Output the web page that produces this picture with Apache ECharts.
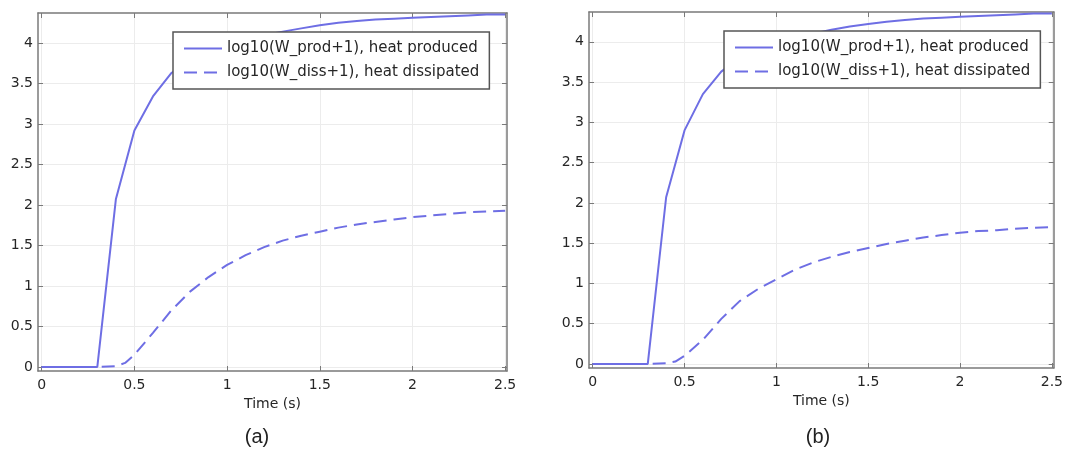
<!DOCTYPE html>
<html>
<head>
<meta charset="utf-8">
<title>heat produced / dissipated</title>
<script src="https://cdn.jsdelivr.net/npm/echarts@6/dist/echarts.min.js"></script>
<style>
  html, body { margin: 0; padding: 0; background: #fff; }
  #chart { width: 1066px; height: 465px; }
</style>
</head>
<body>
<div id="chart"></div>
<script>
// values
var timeProd = [0, 0.1, 0.2, 0.3, 0.4, 0.5, 0.6, 0.7, 0.8, 0.9, 1.0, 1.1, 1.2, 1.3, 1.4, 1.5, 1.6, 1.7, 1.8, 1.9, 2.0, 2.1, 2.2, 2.3, 2.4, 2.5]
var prodA = [0, 0, 0, 0, 2.07, 2.92, 3.34, 3.63, 3.8, 3.91, 3.99, 4.05, 4.1, 4.14, 4.18, 4.22, 4.25, 4.27, 4.29, 4.3, 4.31, 4.32, 4.33, 4.34, 4.35, 4.35]
var prodB = [0, 0, 0, 0, 2.07, 2.9, 3.35, 3.63, 3.8, 3.91, 3.99, 4.05, 4.1, 4.15, 4.19, 4.22, 4.25, 4.27, 4.29, 4.3, 4.31, 4.32, 4.33, 4.34, 4.35, 4.35]

var timeDiss = [0, 0.1, 0.2, 0.3, 0.4, 0.45, 0.5, 0.6, 0.7, 0.8, 0.9, 1.0, 1.1, 1.2, 1.3, 1.4, 1.5, 1.6, 1.7, 1.8, 1.9, 2.0, 2.1, 2.2, 2.3, 2.4, 2.5]
var dissA = [0, 0, 0, 0, 0.01, 0.05, 0.15, 0.42, 0.7, 0.93, 1.11, 1.26, 1.38, 1.48, 1.56, 1.62, 1.67, 1.72, 1.76, 1.79, 1.82, 1.85, 1.87, 1.89, 1.91, 1.92, 1.93]
var dissB = [0, 0, 0, 0, 0.01, 0.03, 0.1, 0.3, 0.56, 0.78, 0.93, 1.05, 1.17, 1.26, 1.33, 1.39, 1.44, 1.49, 1.53, 1.57, 1.6, 1.63, 1.65, 1.66, 1.68, 1.69, 1.7]

var xTicks = [0, 0.5, 1, 1.5, 2, 2.5]
var yTicks = [0, 0.5, 1, 1.5, 2, 2.5, 3, 3.5, 4]

var nameProd = 'log10(W_prod+1), heat produced'
var nameDiss = 'log10(W_diss+1), heat dissipated'
var panelLabels = ['(a)', '(b)']

var lineColor = '#6e6ee4'
var frameColor = '#7a7a7a'
var textColor = '#262626'
var font = 'DejaVu Sans'

var zip = function(xs, ys) {
    var out = []
    for (var i = 0; i < xs.length; i++) {
        out.push([xs[i], ys[i]])
    }
    return out
}

var grids = [
    {left: 38, top: 13, width: 469, height: 358},
    {left: 589, top: 12, width: 469, height: 356}
]
var captionX = [257, 818]

var xAxis = []
var yAxis = []
var series = []
var legend = []
var graphic = []

var panels = [[prodA, dissA], [prodB, dissB]]

panels.forEach(function(p, i) {
    // bottom + top x axes (top one only carries the mirrored ticks)
    ;['bottom', 'top'].forEach(function(pos) {
        xAxis.push({
            type: 'value',
            gridIndex: i,
            position: pos,
            min: -0.02,
            max: 2.51,
            name: pos === 'bottom' ? 'Time (s)' : '',
            nameLocation: 'middle',
            nameGap: 15,
            nameTextStyle: {color: textColor, fontSize: 14, fontFamily: font},
            axisLine: {show: true, onZero: false, lineStyle: {color: frameColor, width: 1.5}},
            axisTick: {show: true, inside: true, length: 5, customValues: xTicks, lineStyle: {color: frameColor}},
            axisLabel: {show: pos === 'bottom', customValues: xTicks, color: textColor, fontSize: 14, fontFamily: font, margin: 7},
            splitLine: {show: pos === 'bottom', lineStyle: {color: '#ececec', width: 1}}
        })
    })
    ;['left', 'right'].forEach(function(pos) {
        yAxis.push({
            type: 'value',
            gridIndex: i,
            position: pos,
            min: -0.05,
            max: 4.37,
            axisLine: {show: true, onZero: false, lineStyle: {color: frameColor, width: 1.5}},
            axisTick: {show: true, inside: true, length: 5, customValues: yTicks, lineStyle: {color: frameColor}},
            axisLabel: {show: pos === 'left', customValues: yTicks, color: textColor, fontSize: 14, fontFamily: font, margin: 5},
            splitLine: {show: pos === 'left', lineStyle: {color: '#ececec', width: 1}}
        })
    })

    series.push({
        name: nameProd,
        type: 'line',
        xAxisIndex: i * 2,
        yAxisIndex: i * 2,
        data: zip(timeProd, p[0]),
        symbol: 'none',
        lineStyle: {color: lineColor, width: 2},
        itemStyle: {color: lineColor}
    })
    series.push({
        name: nameDiss,
        type: 'line',
        xAxisIndex: i * 2,
        yAxisIndex: i * 2,
        data: zip(timeDiss, p[1]),
        symbol: 'none',
        lineStyle: {color: lineColor, width: 2, type: [13, 7]},
        itemStyle: {color: lineColor}
    })

    legend.push({
        data: [nameProd, nameDiss],
        orient: 'vertical',
        left: grids[i].left + 135,
        top: grids[i].top + 19,
        padding: [9, 10, 9, 10],
        itemGap: 9,
        itemWidth: 38,
        itemHeight: 14,
        selectedMode: false,
        backgroundColor: '#fff',
        borderColor: '#555',
        borderWidth: 1.5,
        itemStyle: {opacity: 0},
        textStyle: {color: textColor, fontSize: 15, fontFamily: font}
    })

    graphic.push({
        type: 'text',
        x: captionX[i],
        y: 437,
        style: {text: panelLabels[i], fill: '#222', font: '20px "Liberation Sans"', align: 'center', verticalAlign: 'middle'}
    })
})

var myChart = echarts.init(document.getElementById('chart'))
myChart.setOption({
    animation: false,
    grid: grids,
    xAxis: xAxis,
    yAxis: yAxis,
    legend: legend,
    series: series,
    graphic: graphic
})
</script>
</body>
</html>
